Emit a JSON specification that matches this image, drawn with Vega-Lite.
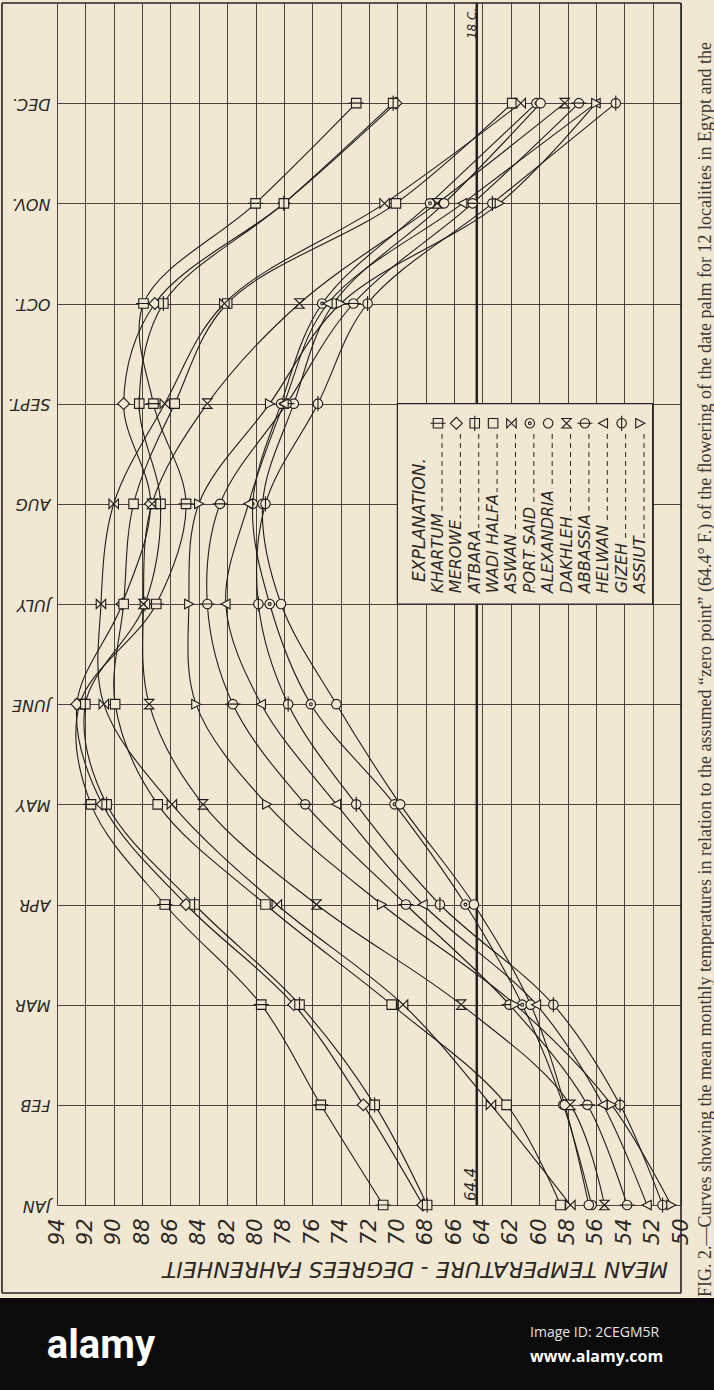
{
"$schema": "https://vega.github.io/schema/vega-lite/v6.json",
"width": 624,
"height": 1202,
"autosize": {"type": "none"},
"padding": {"left": 57, "top": 3, "right": 33, "bottom": 185},
"background": "#f1e8d4",
"config": {"view": {"stroke": null}, "font": "DejaVu Sans",
"axisX": {"grid": true, "gridColor": "#2b2723", "gridWidth": 1, "gridOpacity": 0.85, "ticks": false, "domain": false,
"labelAngle": 270, "labelAlign": "right", "labelBaseline": "middle", "labelPadding": 13, "labelFlush": false, "labelOverlap": false,
"labelFont": "DejaVu Sans", "labelFontStyle": "italic", "labelFontSize": 21, "labelColor": "#2b2723",
"titleAngle": 180, "titleX": 358, "titleY": 63, "titleAlign": "center", "titleBaseline": "middle",
"titleFont": "DejaVu Sans", "titleFontStyle": "italic", "titleFontWeight": "normal", "titleFontSize": 22, "titleColor": "#2b2723"},
"axisY": {"grid": true, "gridColor": "#2b2723", "gridWidth": 1, "gridOpacity": 0.85, "ticks": false, "domain": false,
"labelAngle": 180, "labelAlign": "left", "labelBaseline": "middle", "labelPadding": 7, "labelFlush": false, "labelOverlap": false,
"labelFont": "DejaVu Sans", "labelFontStyle": "italic", "labelFontSize": 16, "labelColor": "#2b2723", "titleOpacity": 0}
},
"datasets": {
"stations": [{"s":"KHARTUM"},{"s":"MEROWE"},{"s":"ATBARA"},{"s":"WADI HALFA"},{"s":"ASWAN"},{"s":"PORT SAID"},{"s":"ALEXANDRIA"},{"s":"DAKHLEH"},{"s":"ABBASSIA"},{"s":"HELWAN"},{"s":"GIZEH"},{"s":"ASSIUT"}],
"temps": [
{"s":"KHARTUM","m":1,"t":71.0},{"s":"KHARTUM","m":2,"t":75.4},{"s":"KHARTUM","m":3,"t":79.6},{"s":"KHARTUM","m":4,"t":86.4},{"s":"KHARTUM","m":5,"t":91.6},{"s":"KHARTUM","m":6,"t":92.4},{"s":"KHARTUM","m":7,"t":87.0},{"s":"KHARTUM","m":8,"t":84.9},{"s":"KHARTUM","m":9,"t":87.2},{"s":"KHARTUM","m":10,"t":87.9},{"s":"KHARTUM","m":11,"t":80.0},{"s":"KHARTUM","m":12,"t":72.9},
{"s":"MEROWE","m":1,"t":68.2},{"s":"MEROWE","m":2,"t":72.4},{"s":"MEROWE","m":3,"t":77.3},{"s":"MEROWE","m":4,"t":84.9},{"s":"MEROWE","m":5,"t":90.8},{"s":"MEROWE","m":6,"t":92.6},{"s":"MEROWE","m":7,"t":89.4},{"s":"MEROWE","m":8,"t":87.4},{"s":"MEROWE","m":9,"t":89.3},{"s":"MEROWE","m":10,"t":87.1},{"s":"MEROWE","m":11,"t":78.0},{"s":"MEROWE","m":12,"t":70.1},
{"s":"ATBARA","m":1,"t":67.9},{"s":"ATBARA","m":2,"t":71.6},{"s":"ATBARA","m":3,"t":76.9},{"s":"ATBARA","m":4,"t":84.3},{"s":"ATBARA","m":5,"t":90.5},{"s":"ATBARA","m":6,"t":92.0},{"s":"ATBARA","m":7,"t":87.8},{"s":"ATBARA","m":8,"t":86.7},{"s":"ATBARA","m":9,"t":88.2},{"s":"ATBARA","m":10,"t":86.5},{"s":"ATBARA","m":11,"t":78.0},{"s":"ATBARA","m":12,"t":70.3},
{"s":"WADI HALFA","m":1,"t":58.5},{"s":"WADI HALFA","m":2,"t":62.3},{"s":"WADI HALFA","m":3,"t":70.4},{"s":"WADI HALFA","m":4,"t":79.3},{"s":"WADI HALFA","m":5,"t":86.9},{"s":"WADI HALFA","m":6,"t":89.9},{"s":"WADI HALFA","m":7,"t":89.3},{"s":"WADI HALFA","m":8,"t":88.6},{"s":"WADI HALFA","m":9,"t":85.7},{"s":"WADI HALFA","m":10,"t":82.0},{"s":"WADI HALFA","m":11,"t":70.1},{"s":"WADI HALFA","m":12,"t":61.9},
{"s":"ASWAN","m":1,"t":57.8},{"s":"ASWAN","m":2,"t":63.4},{"s":"ASWAN","m":3,"t":69.6},{"s":"ASWAN","m":4,"t":78.5},{"s":"ASWAN","m":5,"t":85.9},{"s":"ASWAN","m":6,"t":90.7},{"s":"ASWAN","m":7,"t":90.9},{"s":"ASWAN","m":8,"t":90.0},{"s":"ASWAN","m":9,"t":86.4},{"s":"ASWAN","m":10,"t":82.2},{"s":"ASWAN","m":11,"t":70.9},{"s":"ASWAN","m":12,"t":61.3},
{"s":"PORT SAID","m":1,"t":56.3},{"s":"PORT SAID","m":2,"t":58.3},{"s":"PORT SAID","m":3,"t":61.2},{"s":"PORT SAID","m":4,"t":65.2},{"s":"PORT SAID","m":5,"t":70.2},{"s":"PORT SAID","m":6,"t":76.1},{"s":"PORT SAID","m":7,"t":79.0},{"s":"PORT SAID","m":8,"t":80.2},{"s":"PORT SAID","m":9,"t":78.2},{"s":"PORT SAID","m":10,"t":75.3},{"s":"PORT SAID","m":11,"t":67.7},{"s":"PORT SAID","m":12,"t":60.2},
{"s":"ALEXANDRIA","m":1,"t":56.5},{"s":"ALEXANDRIA","m":2,"t":58.2},{"s":"ALEXANDRIA","m":3,"t":60.6},{"s":"ALEXANDRIA","m":4,"t":64.6},{"s":"ALEXANDRIA","m":5,"t":69.8},{"s":"ALEXANDRIA","m":6,"t":74.3},{"s":"ALEXANDRIA","m":7,"t":78.2},{"s":"ALEXANDRIA","m":8,"t":79.5},{"s":"ALEXANDRIA","m":9,"t":77.3},{"s":"ALEXANDRIA","m":10,"t":74.5},{"s":"ALEXANDRIA","m":11,"t":66.7},{"s":"ALEXANDRIA","m":12,"t":59.9},
{"s":"DAKHLEH","m":1,"t":55.4},{"s":"DAKHLEH","m":2,"t":57.8},{"s":"DAKHLEH","m":3,"t":65.5},{"s":"DAKHLEH","m":4,"t":75.7},{"s":"DAKHLEH","m":5,"t":83.7},{"s":"DAKHLEH","m":6,"t":87.5},{"s":"DAKHLEH","m":7,"t":87.9},{"s":"DAKHLEH","m":8,"t":87.3},{"s":"DAKHLEH","m":9,"t":83.4},{"s":"DAKHLEH","m":10,"t":76.9},{"s":"DAKHLEH","m":11,"t":67.2},{"s":"DAKHLEH","m":12,"t":58.2},
{"s":"ABBASSIA","m":1,"t":53.8},{"s":"ABBASSIA","m":2,"t":56.6},{"s":"ABBASSIA","m":3,"t":62.1},{"s":"ABBASSIA","m":4,"t":69.4},{"s":"ABBASSIA","m":5,"t":76.5},{"s":"ABBASSIA","m":6,"t":81.6},{"s":"ABBASSIA","m":7,"t":83.4},{"s":"ABBASSIA","m":8,"t":82.5},{"s":"ABBASSIA","m":9,"t":77.8},{"s":"ABBASSIA","m":10,"t":73.1},{"s":"ABBASSIA","m":11,"t":64.7},{"s":"ABBASSIA","m":12,"t":57.2},
{"s":"HELWAN","m":1,"t":52.4},{"s":"HELWAN","m":2,"t":55.5},{"s":"HELWAN","m":3,"t":60.2},{"s":"HELWAN","m":4,"t":68.2},{"s":"HELWAN","m":5,"t":74.3},{"s":"HELWAN","m":6,"t":79.6},{"s":"HELWAN","m":7,"t":82.1},{"s":"HELWAN","m":8,"t":80.5},{"s":"HELWAN","m":9,"t":78.0},{"s":"HELWAN","m":10,"t":74.9},{"s":"HELWAN","m":11,"t":65.4},{"s":"HELWAN","m":12,"t":56.0},
{"s":"GIZEH","m":1,"t":51.3},{"s":"GIZEH","m":2,"t":54.3},{"s":"GIZEH","m":3,"t":59.0},{"s":"GIZEH","m":4,"t":67.0},{"s":"GIZEH","m":5,"t":72.9},{"s":"GIZEH","m":6,"t":77.7},{"s":"GIZEH","m":7,"t":79.8},{"s":"GIZEH","m":8,"t":79.3},{"s":"GIZEH","m":9,"t":75.6},{"s":"GIZEH","m":10,"t":72.1},{"s":"GIZEH","m":11,"t":63.3},{"s":"GIZEH","m":12,"t":54.6},
{"s":"ASSIUT","m":1,"t":50.7},{"s":"ASSIUT","m":2,"t":54.9},{"s":"ASSIUT","m":3,"t":61.7},{"s":"ASSIUT","m":4,"t":71.1},{"s":"ASSIUT","m":5,"t":79.2},{"s":"ASSIUT","m":6,"t":84.2},{"s":"ASSIUT","m":7,"t":84.7},{"s":"ASSIUT","m":8,"t":84.0},{"s":"ASSIUT","m":9,"t":79.0},{"s":"ASSIUT","m":10,"t":74.0},{"s":"ASSIUT","m":11,"t":62.8},{"s":"ASSIUT","m":12,"t":56.0}
]
},
"layer": [
{
"layer": [
{
"data": {"name": "temps"},
"mark": {"type": "line", "interpolate": "catmull-rom", "stroke": "#1f1b18", "strokeWidth": 1.1},
"encoding": {
"x": {"field": "t", "type": "quantitative", "title": "MEAN TEMPERATURE - DEGREES FAHRENHEIT", "scale": {"domain": [50, 94], "reverse": true, "nice": false, "zero": false},
"axis": {"values": [50,52,54,56,58,60,62,64,66,68,70,72,74,76,78,80,82,84,86,88,90,92,94], "tickCount": 40}},
"y": {"field": "m", "type": "quantitative", "title": " ", "scale": {"domain": [1, 13], "nice": false, "zero": false},
"axis": {"values": [1,2,3,4,5,6,7,8,9,10,11,12], "tickCount": 40, "labelExpr": "['','JAN','FEB','MAR','APR','MAY','JUNE','JULY','AUG','SEPT.','OCT.','NOV.','DEC.'][datum.value]"}},
"detail": {"field": "s"},
"order": {"field": "m", "type": "quantitative"}
}
},
{
"data": {"values": [{}]},
"mark": {"type": "rule", "stroke": "#26221e", "strokeWidth": 2.5},
"encoding": {"x": {"datum": 64.4}, "y": {"datum": 1}, "y2": {"datum": 13}}
},
{
"data": {"values": [{}]},
"mark": {"type": "rect", "fill": "#f1e8d4", "stroke": "#26221e", "strokeWidth": 1.2},
"encoding": {"x": {"datum": 70}, "x2": {"datum": 52}, "y": {"datum": 7}, "y2": {"datum": 9}}
},
{
"data": {"name": "temps"},
"mark": {"type": "point", "filled": true, "fill": "#f1e8d4", "stroke": "#1f1b18", "strokeWidth": 1.1, "size": 90, "opacity": 1},
"encoding": {
"x": {"field": "t", "type": "quantitative", "title": "MEAN TEMPERATURE - DEGREES FAHRENHEIT"},
"y": {"field": "m", "type": "quantitative", "title": " "},
"shape": {"field": "s", "type": "nominal", "legend": null,
"scale": {"domain": ["KHARTUM","MEROWE","ATBARA","WADI HALFA","ASWAN","PORT SAID","ALEXANDRIA","DAKHLEH","ABBASSIA","HELWAN","GIZEH","ASSIUT"],
"range": ["M-1,-1H1V1H-1ZM-1.6,0H1.6","M0,-1.25L1.25,0L0,1.25L-1.25,0Z","M-1,-1H1V1H-1ZM0,-1.6V1.6","M-1,-1H1V1H-1Z","M-1,-1L1,1V-1L-1,1Z","M-1,0A1,1,0,1,0,1,0A1,1,0,1,0,-1,0ZM-0.3,0A0.3,0.3,0,1,0,0.3,0A0.3,0.3,0,1,0,-0.3,0Z","M-1,0A1,1,0,1,0,1,0A1,1,0,1,0,-1,0Z","M-1,-1H1L-1,1H1Z","M-1,0A1,1,0,1,0,1,0A1,1,0,1,0,-1,0ZM-1.6,0H1.6","M0.9,-1L-1,0L0.9,1Z","M-1,0A1,1,0,1,0,1,0A1,1,0,1,0,-1,0ZM0,-1.6V1.6","M-0.9,-1L1,0L-0.9,1Z"]}}
}
},
{
"data": {"values": [{}]},
"mark": {"type": "text", "text": "64.4", "angle": 270, "align": "left", "baseline": "middle", "font": "DejaVu Sans", "fontStyle": "italic", "fontSize": 15, "fill": "#2b2723"},
"encoding": {"x": {"datum": 64.8}, "y": {"datum": 1.04}}
},
{
"data": {"values": [{}]},
"mark": {"type": "text", "text": "18 C.", "angle": 270, "align": "left", "baseline": "middle", "font": "DejaVu Sans", "fontStyle": "italic", "fontSize": 12, "fill": "#2b2723"},
"encoding": {"x": {"datum": 64.75}, "y": {"datum": 12.64}}
},
{
"data": {"values": [{}]},
"mark": {"type": "text", "text": "EXPLANATION.", "angle": 270, "align": "left", "baseline": "middle", "font": "DejaVu Sans", "fontStyle": "italic", "fontSize": 17, "fill": "#2b2723"},
"encoding": {"x": {"datum": 68.4}, "y": {"datum": 7.22}}
},
{
"data": {"values": [{}]},
"mark": {"type": "rule", "stroke": "#26221e", "strokeWidth": 1.6},
"encoding": {"x": {"datum": 97.88}, "y": {"datum": 13}, "y2": {"datum": 0.122}}
},
{
"data": {"values": [{}]},
"mark": {"type": "rule", "stroke": "#26221e", "strokeWidth": 1.6},
"encoding": {"x": {"datum": 50}, "y": {"datum": 13}, "y2": {"datum": 0.122}}
},
{
"data": {"values": [{}]},
"mark": {"type": "rule", "stroke": "#26221e", "strokeWidth": 1.6},
"encoding": {"y": {"datum": 0.122}, "x": {"datum": 97.88}, "x2": {"datum": 50}}
},
{
"data": {"values": [{}]},
"mark": {"type": "rule", "stroke": "#26221e", "strokeWidth": 1.4},
"encoding": {"y": {"datum": 13}, "x": {"datum": 97.88}, "x2": {"datum": 50}}
},
{
"data": {"values": [{}]},
"mark": {"type": "text", "text": "FIG. 2.—Curves showing the mean monthly temperatures in relation to the assumed “zero point” (64.4° F.) of the flowering of the date palm for 12 localities in Egypt and the", "angle": 270, "align": "left", "baseline": "middle", "font": "Liberation Serif", "fontSize": 18, "fill": "#3b3631"},
"encoding": {"x": {"datum": 48.23}, "y": {"datum": 0.082}}
},
{
"data": {"values": [{}]},
"mark": {"type": "rect", "fill": "#0b0b0b"},
"encoding": {"x": {"datum": 99}, "x2": {"datum": 46}, "y": {"datum": 0.072}, "y2": {"datum": -1.0}}
},
{
"data": {"values": [{}]},
"mark": {"type": "text", "text": "alamy", "align": "center", "baseline": "middle", "font": "Roboto", "fontWeight": "bold", "fontSize": 40, "fill": "#ffffff"},
"encoding": {"x": {"datum": 90.9}, "y": {"datum": -0.41}}
},
{
"data": {"values": [{}]},
"mark": {"type": "text", "text": "Image ID: 2CEGM5R", "align": "left", "baseline": "middle", "font": "Open Sans", "fontSize": 14, "fill": "#e6e6e6"},
"encoding": {"x": {"datum": 60.64}, "y": {"datum": -0.277}}
},
{
"data": {"values": [{}]},
"mark": {"type": "text", "text": "www.alamy.com", "align": "left", "baseline": "middle", "font": "Open Sans", "fontWeight": "bold", "fontSize": 16, "fill": "#ffffff"},
"encoding": {"x": {"datum": 60.64}, "y": {"datum": -0.52}}
}
]
},
{
"data": {"name": "stations"},
"encoding": {
"x": {"field": "s", "type": "nominal", "axis": null,
"scale": {"type": "point", "domain": ["KHARTUM","MEROWE","ATBARA","WADI HALFA","ASWAN","PORT SAID","ALEXANDRIA","DAKHLEH","ABBASSIA","HELWAN","GIZEH","ASSIUT"], "range": [381, 583], "padding": 0}}
},
"layer": [
{
"mark": {"type": "rule", "stroke": "#26221e", "strokeWidth": 1, "strokeDash": [5, 4], "xOffset": 4},
"encoding": {"y": {"datum": 7.12}, "y2": {"datum": 8.7}}
},
{
"mark": {"type": "text", "angle": 270, "align": "left", "baseline": "middle", "font": "DejaVu Sans", "fontStyle": "italic", "fontSize": 16, "fill": "#f1e8d4", "stroke": "#f1e8d4", "strokeWidth": 6},
"encoding": {"y": {"datum": 7.108}, "text": {"field": "s"}}
},
{
"mark": {"type": "text", "angle": 270, "align": "left", "baseline": "middle", "font": "DejaVu Sans", "fontStyle": "italic", "fontSize": 16, "fill": "#2b2723"},
"encoding": {"y": {"datum": 7.108}, "text": {"field": "s"}}
},
{
"mark": {"type": "point", "filled": true, "fill": "#f1e8d4", "stroke": "#1f1b18", "strokeWidth": 1.1, "size": 90, "opacity": 1},
"encoding": {
"y": {"datum": 8.804},
"shape": {"field": "s", "type": "nominal", "legend": null,
"scale": {"domain": ["KHARTUM","MEROWE","ATBARA","WADI HALFA","ASWAN","PORT SAID","ALEXANDRIA","DAKHLEH","ABBASSIA","HELWAN","GIZEH","ASSIUT"],
"range": ["M-1,-1H1V1H-1ZM-1.6,0H1.6","M0,-1.25L1.25,0L0,1.25L-1.25,0Z","M-1,-1H1V1H-1ZM0,-1.6V1.6","M-1,-1H1V1H-1Z","M-1,-1L1,1V-1L-1,1Z","M-1,0A1,1,0,1,0,1,0A1,1,0,1,0,-1,0ZM-0.3,0A0.3,0.3,0,1,0,0.3,0A0.3,0.3,0,1,0,-0.3,0Z","M-1,0A1,1,0,1,0,1,0A1,1,0,1,0,-1,0Z","M-1,-1H1L-1,1H1Z","M-1,0A1,1,0,1,0,1,0A1,1,0,1,0,-1,0ZM-1.6,0H1.6","M0.9,-1L-1,0L0.9,1Z","M-1,0A1,1,0,1,0,1,0A1,1,0,1,0,-1,0ZM0,-1.6V1.6","M-0.9,-1L1,0L-0.9,1Z"]}}
}
}
]
}
],
"resolve": {"scale": {"x": "independent"}}
}
